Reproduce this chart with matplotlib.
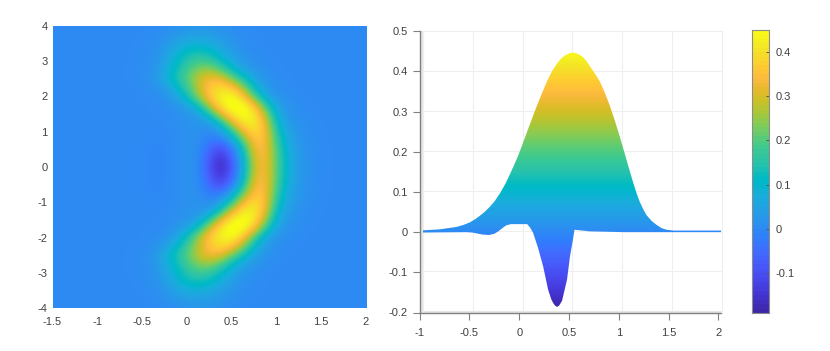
import numpy as np
import matplotlib
matplotlib.use("Agg")
import matplotlib.pyplot as plt
from matplotlib.colors import LinearSegmentedColormap
from matplotlib.patches import Polygon

plt.rcParams['font.family'] = ['Liberation Sans', 'DejaVu Sans']

PARULA = [
(0.2422,0.1504,0.6603),(0.2504,0.1650,0.7076),(0.2578,0.1818,0.7511),(0.2647,0.1978,0.7952),
(0.2706,0.2147,0.8364),(0.2751,0.2342,0.8710),(0.2783,0.2559,0.8991),(0.2803,0.2782,0.9221),
(0.2813,0.3006,0.9414),(0.2810,0.3228,0.9579),(0.2795,0.3447,0.9717),(0.2760,0.3667,0.9829),
(0.2699,0.3892,0.9906),(0.2602,0.4123,0.9952),(0.2440,0.4358,0.9988),(0.2206,0.4603,0.9973),
(0.1963,0.4847,0.9892),(0.1834,0.5074,0.9798),(0.1786,0.5289,0.9682),(0.1764,0.5499,0.9520),
(0.1687,0.5703,0.9359),(0.1540,0.5902,0.9218),(0.1460,0.6091,0.9079),(0.1380,0.6276,0.8973),
(0.1248,0.6459,0.8883),(0.1113,0.6635,0.8763),(0.0952,0.6798,0.8598),(0.0689,0.6948,0.8394),
(0.0297,0.7082,0.8163),(0.0036,0.7203,0.7917),(0.0067,0.7312,0.7660),(0.0433,0.7411,0.7394),
(0.0964,0.7500,0.7120),(0.1408,0.7584,0.6842),(0.1717,0.7670,0.6554),(0.1938,0.7758,0.6251),
(0.2161,0.7843,0.5923),(0.2470,0.7918,0.5567),(0.2906,0.7973,0.5188),(0.3406,0.8008,0.4789),
(0.3909,0.8029,0.4354),(0.4456,0.8024,0.3909),(0.5044,0.7993,0.3480),(0.5616,0.7942,0.3045),
(0.6174,0.7876,0.2612),(0.6720,0.7793,0.2227),(0.7242,0.7698,0.1910),(0.7738,0.7598,0.1646),
(0.8203,0.7498,0.1535),(0.8634,0.7406,0.1596),(0.9035,0.7330,0.1774),(0.9393,0.7288,0.2100),
(0.9728,0.7298,0.2394),(0.9956,0.7434,0.2371),(0.9970,0.7659,0.2199),(0.9952,0.7861,0.1991),
(0.9892,0.8136,0.1885),(0.9786,0.8386,0.1766),(0.9676,0.8639,0.1643),(0.9610,0.8890,0.1537),
(0.9597,0.9135,0.1423),(0.9628,0.9373,0.1265),(0.9691,0.9606,0.1064),(0.9769,0.9839,0.0805)]
VMIN, VMAX = -0.19, 0.45

# Heat-map samples, upper half (mirror-symmetric in y); values.
grid_x = np.arange(-0.75, 1.5001, 0.125)
grid_y = np.arange(0, 4.001, 0.25)
W_upper = np.array([
# -.75  -.625 -.5    -.375  -.25   -.125  0     .125   .25   .375   .5    .625  .75   .875  1     1.125  1.25  1.375  1.5
[.001, .001, -.001, -.005, -.006, .008, .018, .008, -.095, -.205, -.085, .060, .310, .360, .200, .080, .030, .011, .004],  # 0
[.001, .001, -.001, -.005, -.006, .008, .018, .010, -.090, -.175, -.070, .080, .330, .360, .200, .080, .030, .011, .004],  # .25
[.001, .001, -.001, -.004, -.005, .008, .016, .012, -.065, -.125, -.040, .120, .350, .360, .190, .072, .028, .010, .004],  # .5
[.001, .001, -.001, -.003, -.004, .007, .016, .013, -.030, -.035, .050, .210, .380, .360, .170, .060, .024, .009, .003],  # .75
[.001, .001, .000, -.001, -.002, .006, .018, .015, -.003, .035, .140, .340, .415, .360, .140, .050, .020, .007, .002],  # 1
[.000, .001, .001, .000, .000, .008, .018, .020, .030, .120, .315, .435, .440, .340, .100, .035, .014, .005, .001],  # 1.25
[.000, .000, .001, .001, .002, .010, .020, .040, .130, .325, .440, .475, .440, .270, .070, .024, .009, .003, .001],  # 1.5
[.000, .000, .001, .001, .004, .020, .050, .120, .310, .430, .485, .470, .375, .160, .045, .015, .006, .002, .000],  # 1.75
[.000, .000, .001, .004, .015, .050, .130, .270, .375, .445, .465, .385, .180, .060, .018, .007, .002, .000, .000],  # 2
[.000, .001, .003, .010, .035, .095, .180, .285, .375, .420, .380, .250, .100, .032, .010, .003, .001, .000, .000],  # 2.25
[.001, .002, .006, .025, .080, .140, .210, .295, .345, .335, .230, .135, .055, .018, .006, .002, .000, .000, .000],  # 2.5
[.001, .002, .006, .020, .065, .125, .190, .250, .265, .205, .115, .055, .020, .007, .002, .000, .000, .000, .000],  # 2.75
[.000, .002, .005, .015, .050, .105, .155, .185, .175, .115, .060, .025, .010, .003, .001, .000, .000, .000, .000],  # 3
[.000, .001, .004, .012, .040, .090, .125, .140, .120, .075, .040, .015, .005, .001, .000, .000, .000, .000, .000],  # 3.25
[.000, .001, .003, .008, .025, .055, .080, .085, .070, .045, .022, .008, .003, .001, .000, .000, .000, .000, .000],  # 3.5
[.000, .000, .001, .004, .012, .026, .040, .045, .040, .025, .011, .004, .001, .000, .000, .000, .000, .000, .000],  # 3.75
[.000, .000, .000, .002, .005, .012, .018, .020, .018, .012, .005, .002, .000, .000, .000, .000, .000, .000, .000],  # 4
])

# Side view: upper and lower outlines of the surface.
upper_x = [-1, -.80, -.63, -.56, -.50, -.45, -.40, -.35, -.30, -.25, -.19, -.14, -.09, -.05, -.01, .03, .07, .12, .17, .22, .28, .33, .38, .42, .46, .50, .54, .58, .63, .67, .71, .76, .81, .86, .91, .96, 1.01, 1.05, 1.08, 1.12, 1.15, 1.18, 1.21, 1.25, 1.28, 1.33, 1.38, 1.43, 1.48, 1.55, 2.03]
upper_y = [.004, .007, .013, .018, .024, .031, .040, .050, .062, .076, .098, .120, .146, .168, .191, .217, .244, .277, .310, .341, .376, .401, .420, .432, .440, .445, .447, .445, .438, .428, .413, .395, .375, .347, .315, .278, .238, .204, .178, .144, .119, .096, .076, .055, .042, .028, .018, .010, .006, .004, .004]
lower_x = [-1, -.53, -.47, -.43, -.37, -.30, -.25, -.21, -.17, -.13, -.10, -.08, .08, .11, .14, .19, .24, .29, .32, .34, .36, .38, .40, .43, .48, .51, .54, .555, .71, 1.05, 2.03]
lower_y = [-.001, .000, -.001, -.003, -.006, -.007, -.004, .002, .010, .017, .019, .020, .020, .011, -.002, -.040, -.085, -.143, -.166, -.176, -.183, -.186, -.183, -.171, -.118, -.060, -.018, .006, .002, .000, .000]

left_xticks = [-1.5, -1, -0.5, 0, 0.5, 1, 1.5, 2]
left_xlabels = ['-1.5', '-1', '-0.5', '0', '0.5', '1', '1.5', '2']
left_yticks = [-4, -3, -2, -1, 0, 1, 2, 3, 4]
right_xticks = [-1, -0.5, 0, 0.5, 1, 1.5, 2]
right_xlabels = ['-1', '-0.5', '0', '0.5', '1', '1.5', '2']
right_yticks = [-0.2, -0.1, 0, 0.1, 0.2, 0.3, 0.4, 0.5]
right_ylabels = ['-0.2', '-0.1', '0', '0.1', '0.2', '0.3', '0.4', '0.5']
cbar_ticks = [-0.1, 0, 0.1, 0.2, 0.3, 0.4]
cbar_labels = ['-0.1', '0', '0.1', '0.2', '0.3', '0.4']

W, H = 830, 351
TXT = '#404040'
FS = 8
cmap = LinearSegmentedColormap.from_list('parula', PARULA, N=512)


def box(x0, x1, ytop, ybot):
    return [x0 / W, 1 - ybot / H, (x1 - x0) / W, (ybot - ytop) / H]


def soften(a, factor=4, sigma=2.2):
    """Resample the grid finer and blur it, the way the soft reference image looks."""
    ny, nx = a.shape
    xi = np.linspace(0, nx - 1, (nx - 1) * factor + 1)
    yi = np.linspace(0, ny - 1, (ny - 1) * factor + 1)
    b = np.array([np.interp(xi, np.arange(nx), row) for row in a])
    b = np.array([np.interp(yi, np.arange(ny), col) for col in b.T]).T
    r = int(3 * sigma)
    k = np.exp(-0.5 * (np.arange(-r, r + 1) / sigma) ** 2)
    k /= k.sum()
    b = np.apply_along_axis(lambda v: np.convolve(np.pad(v, r, mode='edge'), k, 'valid'), 0, b)
    b = np.apply_along_axis(lambda v: np.convolve(np.pad(v, r, mode='edge'), k, 'valid'), 1, b)
    return b


fig = plt.figure(figsize=(W / 100, H / 100), dpi=100)

# ---- left heat map
ax = fig.add_axes(box(52.5, 366, 25.5, 308.5))
full = np.vstack([W_upper[:0:-1], W_upper])
n_left = int(round((grid_x[0] + 1.5) / 0.125))
n_right = int(round((2 - grid_x[-1]) / 0.125))
full = np.pad(full, ((0, 0), (n_left, n_right)), constant_values=0)
ax.imshow(soften(full), origin='lower', aspect='auto', cmap=cmap, vmin=VMIN, vmax=VMAX,
          interpolation='bilinear', extent=[-1.5, 2, -4, 4])
ax.set_xlim(-1.5, 2)
ax.set_ylim(-4, 4)
ax.set_xticks(left_xticks, left_xlabels)
ax.set_yticks(left_yticks, [str(v) for v in left_yticks])
ax.tick_params(axis='x', length=0, pad=6, labelsize=FS, labelcolor=TXT)
ax.tick_params(axis='y', length=0, pad=3.5, labelsize=FS, labelcolor=TXT)
for s in ax.spines.values():
    s.set_visible(False)

# ---- right: back walls with the grid
back = fig.add_axes(box(423, 721.8, 30.7, 311), zorder=1)
back.set_xlim(-1, 2)
back.set_ylim(-0.2, 0.5)
back.set_xticks(right_xticks)
back.set_yticks(right_yticks)
back.grid(True, color='#efefef', lw=0.8)
back.tick_params(length=0, labelbottom=False, labelleft=False)
for s in back.spines.values():
    s.set_color('#efefef')
    s.set_linewidth(0.8)
back.set_axisbelow(True)

# ---- right: front axes with the surface
front = fig.add_axes(box(419.7, 721.3, 31.3, 312.5), zorder=2)
front.patch.set_alpha(0)
front.set_xlim(-1, 2.03)
front.set_ylim(-0.2, 0.5)
poly_xy = np.column_stack([upper_x + lower_x[::-1], upper_y + lower_y[::-1]])
poly = Polygon(poly_xy, closed=True, transform=front.transData, fc='none', ec='none')
front.add_patch(poly)
grad = np.linspace(VMIN, VMAX, 400).reshape(-1, 1)
im = front.imshow(grad, origin='lower', aspect='auto', cmap=cmap, vmin=VMIN, vmax=VMAX,
                  extent=[-1, 2.03, VMIN, VMAX], interpolation='bilinear')
im.set_clip_path(poly)
front.set_xlim(-1, 2.03)
front.set_ylim(-0.2, 0.5)
front.set_xticks(right_xticks, right_xlabels)
front.set_yticks(right_yticks, right_ylabels)
front.tick_params(axis='both', length=5.2, width=0.8, color='#808080', labelsize=FS, labelcolor=TXT)
front.tick_params(axis='x', pad=6)
front.tick_params(axis='y', pad=3.5)
front.spines['top'].set_visible(False)
front.spines['right'].set_visible(False)
for name in ('left', 'bottom'):
    front.spines[name].set_color('#808080')
    front.spines[name].set_linewidth(1)

# walls seen edge-on between the front axis lines and the back plane
front.axvspan(-1, -0.965, color='#e6e6e6', lw=0, zorder=0)
front.axhspan(-0.2, -0.196, color='#e6e6e6', lw=0, zorder=0)

# ---- colour bar
cax = fig.add_axes(box(751.7, 769, 30, 312.7))
cgrad = np.linspace(VMIN, VMAX, 64).reshape(-1, 1)
cax.imshow(cgrad, origin='lower', aspect='auto', cmap=cmap, vmin=VMIN, vmax=VMAX,
           extent=[0, 1, VMIN, VMAX], interpolation='nearest')
cax.set_xticks([])
cax.yaxis.tick_right()
cax.set_yticks(cbar_ticks, cbar_labels)
cax.tick_params(axis='y', direction='in', length=2, width=0.7, color='#555555', pad=4.5,
                labelsize=FS, labelcolor=TXT)
for s in cax.spines.values():
    s.set_color('#8c8c8c')
    s.set_linewidth(0.8)

fig.savefig('out.png', dpi=100)
